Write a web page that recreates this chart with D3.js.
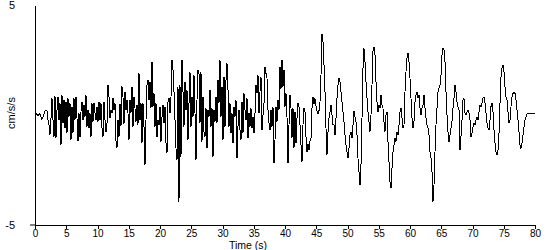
<!DOCTYPE html>
<html>
<head>
<meta charset="utf-8">
<script src="https://cdn.jsdelivr.net/npm/d3@7"></script>
<style>
  body { margin: 0; background: #fff; }
  svg { display: block; }
</style>
</head>
<body>
<div id="chart"></div>
<script>
// ground acceleration trace, one sample every 0.16 s (0 .. 80 s)
const sampleStep = 0.16;
const accel = [
    // 0 - 13 s
    0.0, 0.08, 0.02, -0.02, 0.04, 0.05, -0.1, -0.2, -0.08, 0.05,
    0.18, 0.23, 0.2, -0.23, -0.45, -0.9, -0.15, 0.76, -0.23, -1.0,
    0.86, -1.06, 0.2, 0.83, -0.23, 0.53, -1.36, 0.9, -0.38, 0.68,
    -0.6, 0.6, -0.83, 0.76, -0.07, 0.53, -1.14, 0.38, -0.83, 0.76,
    -0.23, 0.83, -0.15, -1.2, 0.08, -1.0, 0.15, 0.6, -0.23, 0.45,
    -0.08, 0.9, -0.53, 0.23, -0.6, 0.08, -1.0, 0.53, -0.3, 0.53,
    0.1, -0.23, 0.38, -0.3, 0.6, -0.23, 0.53, -0.6, -1.0, 0.6,
    -0.23, -0.76, -0.38, 1.36, 0.83, -0.15, 0.23, 0.08, 0.76, 0.23,
    0.53, -1.2, -1.5, -0.23,
    // 13.4 - 27 s
    -1.0, 0.5, -0.5, 1.3, 0.8, -0.4, 1.06, 0.23, 0.68, 0.08,
    -1.14, 0.68, 0.08, 1.29, -0.53, 0.83, 0.3, -0.3, 0.45, -0.45,
    1.89, -0.23, 0.53, -1.29, 0.53, -0.53, -2.27, -0.23, 1.36, 1.59,
    0.68, 1.52, 0.3, 2.42, 0.38, 0.98, -0.53, 0.53, -1.0, -0.23,
    -0.45, 0.38, -1.21, -0.08, 0.45, -0.38, 0.38, -1.29, -1.74, 0.6,
    0.76, 0.08, 0.83, 2.5, 2.05, 1.06, -0.23, -1.52, -2.05, 1.29,
    -3.94, 1.36, -1.89, 2.5, 1.06, -0.53, 1.52, 0.23, 1.14, -1.14,
    0.53, 1.97, -0.53, 0.83, -0.08, 1.82, 0.08, -2.05, 0.68, 2.05,
    1.89, -0.38, 1.97, -1.21, 0.83, -0.76,
    // 27.2 - 40.3 s
    -1.0, 0.3, -1.52, 0.23, -0.08, 1.14, -0.53, 0.3, -1.9, 0.23,
    -0.3, 0.83, -0.38, 1.59, 0.53, 2.5, -0.08, 1.29, -1.14, 1.74,
    -0.53, 1.59, 2.35, 1.14, -0.53, 0.53, -0.83, 0.08, -1.29, 0.38,
    -0.08, 0.68, -1.97, -0.53, 0.23, -0.68, -1.14, 0.6, -0.83, 0.98,
    0.23, -0.23, 0.76, -1.06, 0.08, -0.53, 0.3, -0.6, -0.08, -0.83,
    0.08, 1.36, 0.98, 1.82, 0.08, 1.06, 1.74, -0.68, 0.0, 0.53,
    2.2, 1.89, 1.67, 0.23, -0.38, -0.68, 0.23, -0.53, 0.38, -2.2,
    -1.14, 0.38, -0.3, 0.68, 0.23, 2.2, 1.2, 2.5, 1.29, 2.05,
    0.38, 0.98, -0.1,
    // 40.5 - 53.9 s
    -2.2, -0.45, 0.9, 0.3, -1.06, 0.3, -1.5, 0.15, -1.29, -0.15,
    0.53, 0.38, -0.45, -1.36, -2.12, -0.45, 0.3, 0.15, -1.0, -1.67,
    -1.3, -1.6, -1.2, -1.06, 0.3, 0.83, 0.5, 0.75, 0.4, 0.2,
    0.05, 0.2, 0.6, 1.82, 3.7, 3.33, 2.27, 1.06, -0.6, -1.82,
    -0.76, -0.15, 0.15, 0.45, 0.0, -0.45, -0.45, -0.91, -0.15, 0.76,
    1.36, 1.67, 1.52, 1.06, 0.6, 0.15, -0.3, -0.91, -1.36, -1.67,
    -1.97, -1.52, -0.91, -0.76, -1.06, -0.45, 0.2, -0.1, -0.3, -0.91,
    -1.97, -2.58, -3.18, -2.27, -0.15, 2.12, 3.03, 2.42, 1.52, 0.76,
    0.15, -0.3, -0.76, 0.0, 1.36,
    // 54.1 - 67.8 s
    2.9, 3.1, 2.73, 1.52, 0.6, 0.15, 0.45, 0.3, 0.91, 0.45,
    0.3, -0.3, -0.76, 0.0, 0.15, -1.21, -2.12, -3.03, -3.33, -2.42,
    -1.67, -1.36, -1.06, -1.21, -0.76, -0.91, -0.45, 0.15, 0.3, -0.15,
    -0.6, -0.45, 1.06, 1.97, 2.58, 2.8, 2.42, 1.67, 0.76, -0.15,
    -0.6, -0.3, 0.6, 0.91, 1.06, 0.76, 0.91, 0.3, 0.0, 0.3,
    0.45, 0.91, 0.3, -0.15, -0.45, -0.6, -0.91, -1.67, -1.97, -2.58,
    -3.94, -3.18, -1.67, -0.45, 0.3, 1.06, 1.21, 1.36, 1.82, 2.73,
    3.03, 2.95, 2.42, 1.06, 0.0, -0.76, -1.21, -0.91, -0.6, -0.3,
    0.3, 0.76, 1.36, 1.06, 0.6, 0.38, 0.23,
    // 68 - 80 s
    -1.59, -0.98, -0.23, 0.68, 0.76, 0.08, 0.0, 0.15, 0.23, 0.08,
    -0.23, -0.98, -0.83, -0.53, -0.38, -0.45, -0.23, -0.08, -0.23, 0.15,
    0.45, 0.38, 0.53, 0.76, 0.83, 0.53, 0.08, -0.38, -0.6, -0.68,
    -0.23, 0.38, 0.53, 0.15, -0.68, -1.29, -1.67, -1.82, -1.59, -0.83,
    0.53, 1.74, 2.12, 2.27, 1.97, 1.29, 0.83, 0.68, 0.15, -0.38,
    -0.23, 0.38, 0.83, 0.98, 1.06, 0.98, 0.68, 0.23, -0.23, -0.76,
    -1.36, -1.52, -1.29, -0.91, -0.53, -0.23, -0.08, 0.05, 0.08, 0.08,
    0.08, 0.08, 0.08, 0.08, 0.08, 0.08
];

const xTickValues = [0, 5, 10, 15, 20, 25, 30, 35, 40, 45, 50, 55, 60, 65, 70, 75, 80];
const yTickValues = [-5, 5];
const xTitle = "Time (s)";
const yTitle = "cm/s/s";

const width = 550,
    height = 250;
const margin = {top: 5, right: 15, bottom: 25, left: 35};
const fontFamily = "'Liberation Sans', Arial, sans-serif";

const svg = d3.select("#chart").append("svg")
    .attr("width", width)
    .attr("height", height)
    .style("font-family", fontFamily);

const x = d3.scaleLinear()
    .domain([0, 80])
    .range([margin.left, width - margin.right]);

const y = d3.scaleLinear()
    .domain([-5, 5])
    .range([height - margin.bottom, margin.top]);

const points = accel.map((v, i) => ({t: i * sampleStep, v: v}));

const line = d3.line()
    .x(d => x(d.t))
    .y(d => y(d.v));

svg.append("path")
    .datum(points)
    .attr("fill", "none")
    .attr("stroke", "#000")
    .attr("stroke-width", 1)
    .attr("shape-rendering", "crispEdges")
    .attr("d", line);

// x axis
const xAxis = svg.append("g")
    .attr("transform", `translate(0,${y(-5)})`)
    .call(d3.axisBottom(x)
        .tickValues(xTickValues)
        .tickSize(4)
        .tickSizeOuter(0)
        .tickPadding(1));

// y axis
const yAxis = svg.append("g")
    .attr("transform", `translate(${x(0)},0)`)
    .call(d3.axisLeft(y)
        .tickValues(yTickValues)
        .tickSize(0)
        .tickPadding(20)
        .tickFormat(d3.format("d")));

// small stub where the two axes meet
yAxis.append("line")
    .attr("x1", -5)
    .attr("x2", 0)
    .attr("y1", y(-5))
    .attr("y2", y(-5))
    .attr("stroke", "#000");

svg.selectAll(".domain, .tick line")
    .attr("stroke", "#000")
    .attr("shape-rendering", "crispEdges");

svg.selectAll(".tick text")
    .attr("fill", "#000")
    .style("font", `10px ${fontFamily}`);

yAxis.selectAll(".tick text")
    .style("font", `11px ${fontFamily}`)
    .text(d => d < 0 ? "-" + Math.abs(d) : d);

svg.append("text")
    .attr("x", 248)
    .attr("y", height - 1)
    .attr("text-anchor", "middle")
    .style("font-size", "10.5px")
    .text(xTitle);

svg.append("text")
    .attr("transform", `translate(15,${y(0) - 2}) rotate(-90)`)
    .attr("text-anchor", "middle")
    .style("font-size", "11px")
    .text(yTitle);
</script>
</body>
</html>
